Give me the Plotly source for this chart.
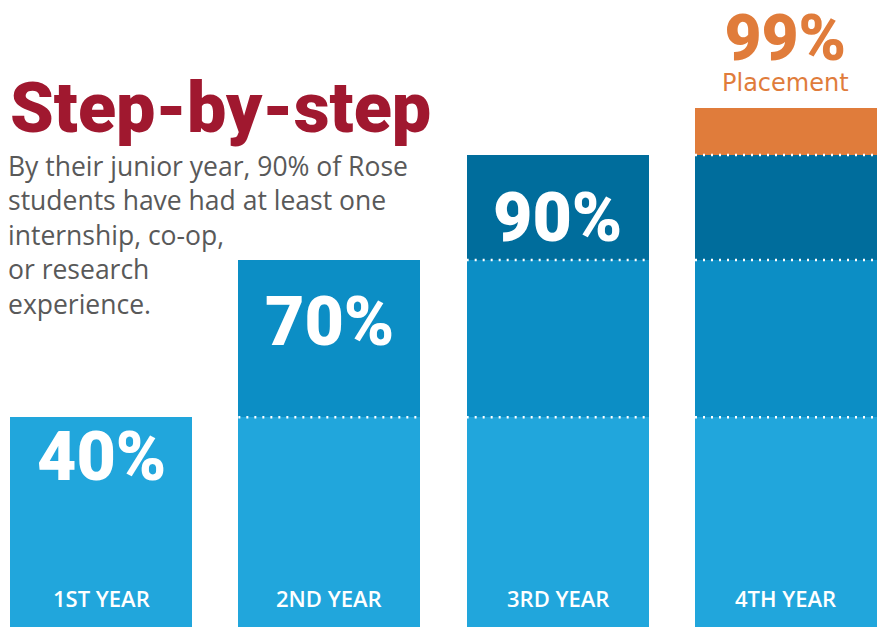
import plotly.graph_objects as go

# ---- data ----
years = ["1ST YEAR", "2ND YEAR", "3RD YEAR", "4TH YEAR"]
cumulative_pct = [40, 70, 90, 99]
pct_labels = ["40%", "70%", "90%", "99%"]
segment_colors = ["#21A6DC", "#0C8EC5", "#006D9C", "#E07C3B"]
title_text = "Step-by-step"
body_lines = ["By their junior year, 90% of Rose", "students have had at least one",
              "internship, co-op,", "or research", "experience."]
placement_label = "Placement"

W, H = 883, 627
def px(x): return x / W
def py(y): return 1 - y / H

# segment sizes: each segment is the step between consecutive cumulative values
steps = [cumulative_pct[0]] + [cumulative_pct[i] - cumulative_pct[i - 1] for i in range(1, len(cumulative_pct))]

fig = go.Figure()
for s, (step, col) in enumerate(zip(steps, segment_colors)):
    vals = [step if i >= s else 0 for i in range(len(years))]
    fig.add_trace(go.Bar(x=list(range(len(years))), y=vals, marker=dict(color=col, line=dict(width=0)),
                         width=0.797, hoverinfo="skip", showlegend=False))

# dotted boundaries between segments
shapes = []
for i in range(len(years)):
    for s in range(i):
        yv = cumulative_pct[s]
        shapes.append(dict(type="line", xref="x", yref="y", x0=i - 0.3985, x1=i + 0.3985, y0=yv, y1=yv,
                           line=dict(color="white", width=2.5, dash="2px,6px"), layer="above"))

ann = []
ann.append(dict(text=title_text, x=px(8), y=py(108), xref="paper", yref="paper", xanchor="left", yanchor="middle",
                showarrow=False, font=dict(family="Roboto", size=70, color="#A0182F", weight=900)))
ann.append(dict(text="<br>".join(body_lines), x=px(6), y=py(146), xref="paper", yref="paper", xanchor="left",
                yanchor="top", align="left", showarrow=False,
                font=dict(family="Open Sans", size=26.5, color="#595959")))

pct_y = [457, 322, 218]
for i, yy in enumerate(pct_y):
    ann.append(dict(text=pct_labels[i], x=i, y=py(yy), xref="x", yref="paper", xanchor="center", yanchor="middle",
                    showarrow=False, font=dict(family="Roboto", size=68, color="white", weight=900)))
# last bar: headline value + "Placement" in one block above the bar
top_text = ("<span style='font-family:Roboto;font-size:64px;font-weight:900'>" + pct_labels[3] +
            "</span><br>" + placement_label)
ann.append(dict(text=top_text, x=3, y=py(99), xref="x", yref="paper", xanchor="center", yanchor="bottom",
                showarrow=False, font=dict(family="DejaVu Sans", size=24, color="#E07C3B")))
for i, lab in enumerate(years):
    ann.append(dict(text=lab, x=i, y=py(598), xref="x", yref="paper", xanchor="center", yanchor="middle",
                    showarrow=False, font=dict(family="Open Sans", size=22, color="white", weight=600)))

unit = 228.33
fig.update_layout(
    width=W, height=H, margin=dict(l=0, r=0, t=0, b=0),
    paper_bgcolor="white", plot_bgcolor="white", barmode="stack",
    xaxis=dict(range=[-101 / unit, (W - 101) / unit], visible=False, fixedrange=True),
    yaxis=dict(range=[0, H / 5.244], visible=False, fixedrange=True),
    shapes=shapes, annotations=ann,
)
fig.write_html("out.html", config={"displayModeBar": False},
               post_script="document.body.style.margin='0';document.body.style.overflow='hidden';")
